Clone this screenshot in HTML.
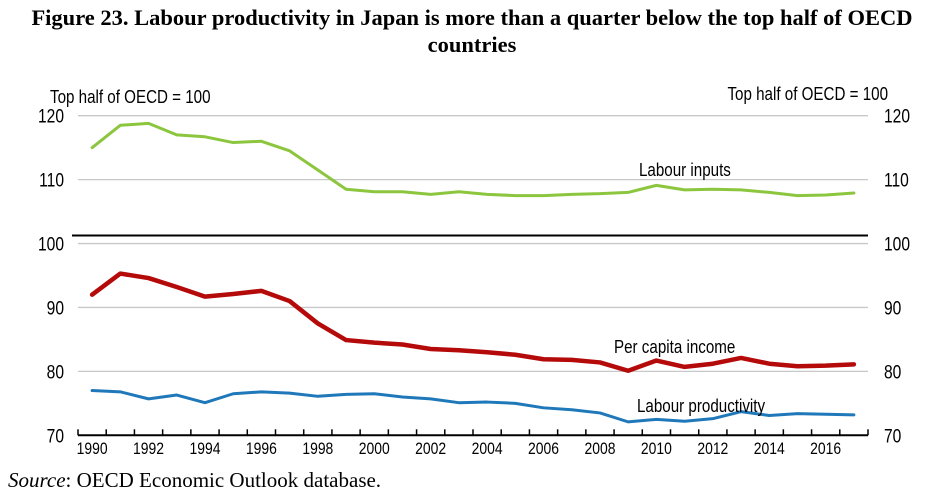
<!DOCTYPE html>
<html><head><meta charset="utf-8"><style>
body{margin:0;background:#fff;width:944px;height:497px;overflow:hidden}
</style></head><body>
<svg width="944" height="497" xmlns="http://www.w3.org/2000/svg">
<g font-family="Liberation Serif, serif" font-weight="bold" font-size="22.5" text-anchor="middle">
<text x="472" y="25">Figure 23. Labour productivity in Japan is more than a quarter below the top half of OECD</text>
<text x="472" y="52">countries</text>
</g>
<g id="plot" font-family="Liberation Sans, sans-serif" font-size="18.5" fill="#000"></g>
<text x="8" y="487" font-family="Liberation Serif, serif" font-size="21"><tspan font-style="italic">Source</tspan>: OECD Economic Outlook database.</text>
</svg>
<script>
const years=[1990,1991,1992,1993,1994,1995,1996,1997,1998,1999,2000,2001,2002,2003,2004,2005,2006,2007,2008,2009,2010,2011,2012,2013,2014,2015,2016,2017];
const labourInputs=[115,118.5,118.8,117,116.7,115.8,116,114.5,111.5,108.5,108.1,108.1,107.7,108.1,107.7,107.5,107.5,107.7,107.8,108,109.1,108.4,108.5,108.4,108,107.5,107.6,107.9];
const perCapitaIncome=[92,95.3,94.6,93.2,91.7,92.1,92.6,91,87.5,84.9,84.5,84.2,83.5,83.3,83,82.6,81.9,81.8,81.4,80.1,81.7,80.7,81.2,82.1,81.2,80.8,80.9,81.1];
const labourProductivity=[77,76.8,75.7,76.3,75.1,76.5,76.8,76.6,76.1,76.4,76.5,76,75.7,75.1,75.2,75,74.3,74,73.5,72.1,72.5,72.2,72.6,73.7,73.1,73.4,73.3,73.2];
const yTicks=[70,80,90,100,110,120];
const refValue=101.25;
const NS='http://www.w3.org/2000/svg';
const g=document.getElementById('plot');
const L=78,R=868,T=115.7,B=435.3,ymin=70,ymax=120;
const band=(R-L)/years.length;
const x=i=>L+band*(i+0.5);
const y=v=>B-(v-ymin)/(ymax-ymin)*(B-T);
function el(t,a){const e=document.createElementNS(NS,t);for(const k in a)e.setAttribute(k,a[k]);g.appendChild(e);return e;}
function txt(s,xx,yy,anchor,size){const t=el('text',{x:0,y:0,'text-anchor':anchor||'start',transform:'translate('+xx+','+yy+') scale(0.82,1)'});
 if(size)t.setAttribute('font-size',size);t.textContent=s;return t;}
yTicks.forEach(v=>{
 if(v>ymin){const l=el('line',{x1:L,x2:R,y1:y(v),y2:y(v),stroke:'#c8c8c8','stroke-width':1.3});
 
 }
 const a=txt(v,64,y(v)+7,'end',19);
 
 
 const b=txt(v,884,y(v)+7,'start',19);
 
 
});
const ref=el('line',{x1:L-6,x2:R,y1:y(refValue),y2:y(refValue),stroke:'#000','stroke-width':2});


const ax=el('line',{x1:L,x2:R,y1:B,y2:B,stroke:'#000','stroke-width':2});


for(let i=0;i<=years.length;i++){const t=el('line',{x1:L+band*i,x2:L+band*i,y1:B,y2:B-6,stroke:'#000','stroke-width':1.5});
 
 }
years.forEach((yr,i)=>{if(yr%2===0){const t=txt(yr,x(i),454,'middle',17);
 
 }});
function series(data,color,w,name){
 const p=el('polyline',{points:data.map((v,i)=>x(i)+','+y(v)).join(' '),fill:'none',stroke:color,'stroke-width':w,'stroke-linejoin':'round','stroke-linecap':'round'});
 
 
}
series(labourInputs,'#8cc63f',3,'labour-inputs-line');
series(perCapitaIncome,'#b50a0a',4.5,'per-capita-income-line');
series(labourProductivity,'#1f78b9',3,'labour-productivity-line');
function label(s,xx,yy,name,anchor){const t=txt(s,xx,yy,anchor);
 
 }
label('Top half of OECD = 100',50,103,'left-axis-unit');
label('Top half of OECD = 100',888,100,'right-axis-unit','end');
label('Labour inputs',639,176,'labour-inputs-label');
label('Per capita income',614,353,'per-capita-income-label');
label('Labour productivity',637,412,'labour-productivity-label');
</script>
</body></html>
